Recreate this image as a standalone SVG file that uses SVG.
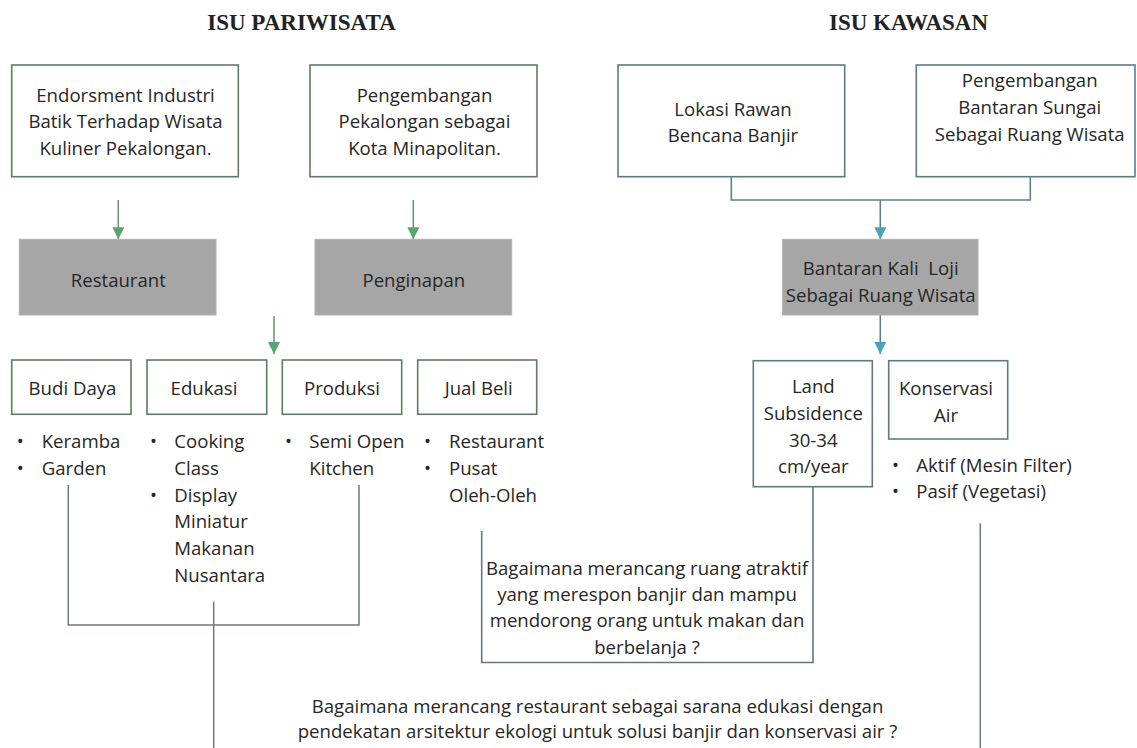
<svg xmlns="http://www.w3.org/2000/svg" width="1137" height="748" viewBox="0 0 1137 748">
<defs>
<style>
.t{font-family:"Open Sans","Noto Sans",sans-serif;font-size:18.6px;fill:#262626}
.c{text-anchor:middle}
.h{font-family:"Liberation Serif","Times New Roman",serif;font-size:23px;font-weight:bold;fill:#222;text-anchor:middle}
.bg{fill:#fff;stroke:#5f7a67;stroke-width:1.6}
.bb{fill:#fff;stroke:#5e7b82;stroke-width:1.6}
.gr{fill:#a6a6a6;stroke:#b0b0b0;stroke-width:1}
.lg{fill:none;stroke:#6d8f77;stroke-width:1.5}
.lb{fill:none;stroke:#5f8088;stroke-width:1.6}
.lk{fill:none;stroke:#6b7b70;stroke-width:1.5}
.lq{fill:none;stroke:#66777c;stroke-width:1.6}
</style>
<marker id="ag" viewBox="0 0 12 12" refX="12" refY="6" markerWidth="12" markerHeight="12" markerUnits="userSpaceOnUse" orient="auto">
<path d="M0,0 L12,6 L0,12 Z" fill="#5aa56e"/>
</marker>
<marker id="ab" viewBox="0 0 12 12" refX="12" refY="6" markerWidth="12" markerHeight="12" markerUnits="userSpaceOnUse" orient="auto">
<path d="M0,0 L12,6 L0,12 Z" fill="#4aa3b8"/>
</marker>
</defs>
<rect width="1137" height="748" fill="#fff"/>

<g id="titles">
<text class="h" x="301.5" y="29.5">ISU PARIWISATA</text>
<text class="h" x="908.5" y="29.5">ISU KAWASAN</text>
</g>

<g id="connectors">
<line class="lg" x1="118.3" y1="200" x2="118.3" y2="239.3" marker-end="url(#ag)"/>
<line class="lg" x1="413.3" y1="200" x2="413.3" y2="239.3" marker-end="url(#ag)"/>
<line class="lg" x1="274" y1="316" x2="274" y2="354" marker-end="url(#ag)"/>
<polyline class="lb" points="731.3,177 731.3,200 1030.3,200 1030.3,177"/>
<line class="lb" x1="880.3" y1="200" x2="880.3" y2="239.3" marker-end="url(#ab)"/>
<line class="lb" x1="880.3" y1="315" x2="880.3" y2="354" marker-end="url(#ab)"/>
<polyline class="lk" points="68.3,485 68.3,625 359,625 359,485"/>
<line class="lk" x1="213.7" y1="601.7" x2="213.7" y2="748"/>
<polyline class="lq" points="481.7,531 481.7,662.5 813,662.5 813,486.7"/>
<line class="lk" x1="980.3" y1="523.3" x2="980.3" y2="748"/>
</g>

<g id="n-endorsment">
<rect class="bg" x="11.7" y="65" width="226.6" height="111.7"/>
<text class="t c" x="125.5" y="101.7">Endorsment Industri</text>
<text class="t c" x="125.5" y="128.3">Batik Terhadap Wisata</text>
<text class="t c" x="125.5" y="155">Kuliner Pekalongan.</text>
</g>
<g id="n-minapolitan">
<rect class="bg" x="310" y="65" width="227" height="111.7"/>
<text class="t c" x="424.5" y="101.7">Pengembangan</text>
<text class="t c" x="424.5" y="128.3">Pekalongan sebagai</text>
<text class="t c" x="424.5" y="155">Kota Minapolitan.</text>
</g>
<g id="n-lokasi">
<rect class="bb" x="618" y="65" width="226.7" height="111.7"/>
<text class="t c" x="733" y="115.7">Lokasi Rawan</text>
<text class="t c" x="733" y="142.3">Bencana Banjir</text>
</g>
<g id="n-bantaran-sungai">
<rect class="bb" x="916.3" y="65" width="218.7" height="111.7"/>
<text class="t c" x="1029.7" y="87.3">Pengembangan</text>
<text class="t c" x="1029.7" y="114">Bantaran Sungai</text>
<text class="t c" x="1029.7" y="140.5">Sebagai Ruang Wisata</text>
</g>

<g id="n-restaurant">
<rect class="gr" x="19.3" y="239.3" width="196.7" height="75.7"/>
<text class="t c" x="118.3" y="286.7">Restaurant</text>
</g>
<g id="n-penginapan">
<rect class="gr" x="315" y="239.3" width="196.7" height="75.7"/>
<text class="t c" x="413.8" y="286.7">Penginapan</text>
</g>
<g id="n-bantaran-loji">
<rect class="gr" x="782.7" y="239.3" width="195.3" height="75.7"/>
<text class="t c" x="880.7" y="275" xml:space="preserve">Bantaran Kali  Loji</text>
<text class="t c" x="880.7" y="301.5">Sebagai Ruang Wisata</text>
</g>

<g id="n-budidaya">
<rect class="bg" x="11.7" y="360" width="119.3" height="54.3"/>
<text class="t c" x="72.5" y="395">Budi Daya</text>
<text class="t" x="16.7" y="448.3">•</text>
<text class="t" x="41.7" y="448.3">Keramba</text>
<text class="t" x="16.7" y="475">•</text>
<text class="t" x="41.7" y="475">Garden</text>
</g>
<g id="n-edukasi">
<rect class="bg" x="147" y="360" width="119.7" height="54.3"/>
<text class="t c" x="204" y="395">Edukasi</text>
<text class="t" x="150" y="448.3">•</text>
<text class="t" x="174.3" y="448.3">Cooking</text>
<text class="t" x="174.3" y="475">Class</text>
<text class="t" x="150" y="501.7">•</text>
<text class="t" x="174.3" y="501.7">Display</text>
<text class="t" x="174.3" y="528.3">Miniatur</text>
<text class="t" x="174.3" y="555">Makanan</text>
<text class="t" x="174.3" y="581.7">Nusantara</text>
</g>
<g id="n-produksi">
<rect class="bg" x="282.3" y="360" width="119.4" height="54.3"/>
<text class="t c" x="342" y="395">Produksi</text>
<text class="t" x="285" y="448.3">•</text>
<text class="t" x="309.3" y="448.3">Semi Open</text>
<text class="t" x="309.3" y="475">Kitchen</text>
</g>
<g id="n-jualbeli">
<rect class="bg" x="417.7" y="360" width="119" height="54.3"/>
<text class="t c" x="478.7" y="395">Jual Beli</text>
<text class="t" x="424" y="448.3">•</text>
<text class="t" x="449" y="448.3">Restaurant</text>
<text class="t" x="424" y="475">•</text>
<text class="t" x="449" y="475">Pusat</text>
<text class="t" x="449" y="501.7">Oleh-Oleh</text>
</g>

<g id="n-land">
<rect class="bb" x="753.3" y="360.7" width="119" height="126"/>
<text class="t c" x="813.3" y="393.3">Land</text>
<text class="t c" x="813.3" y="420">Subsidence</text>
<text class="t c" x="813.3" y="446.7">30-34</text>
<text class="t c" x="813.3" y="472.7">cm/year</text>
</g>
<g id="n-konservasi">
<rect class="bb" x="888.7" y="360.7" width="119" height="78.3"/>
<text class="t c" x="946" y="395">Konservasi</text>
<text class="t c" x="946" y="421.7">Air</text>
<text class="t" x="892" y="471.7">•</text>
<text class="t" x="916.3" y="471.7">Aktif (Mesin Filter)</text>
<text class="t" x="892" y="498">•</text>
<text class="t" x="916.3" y="498">Pasif (Vegetasi)</text>
</g>

<g id="n-question1">
<text class="t c" x="647" y="575">Bagaimana merancang ruang atraktif</text>
<text class="t c" x="647" y="601">yang merespon banjir dan mampu</text>
<text class="t c" x="647" y="627.3">mendorong orang untuk makan dan</text>
<text class="t c" x="647" y="653.5">berbelanja ?</text>
</g>
<g id="n-question2">
<text class="t c" x="597.5" y="712.5">Bagaimana merancang restaurant sebagai sarana edukasi dengan</text>
<text class="t c" x="597.5" y="738">pendekatan arsitektur ekologi untuk solusi banjir dan konservasi air ?</text>
</g>
</svg>
